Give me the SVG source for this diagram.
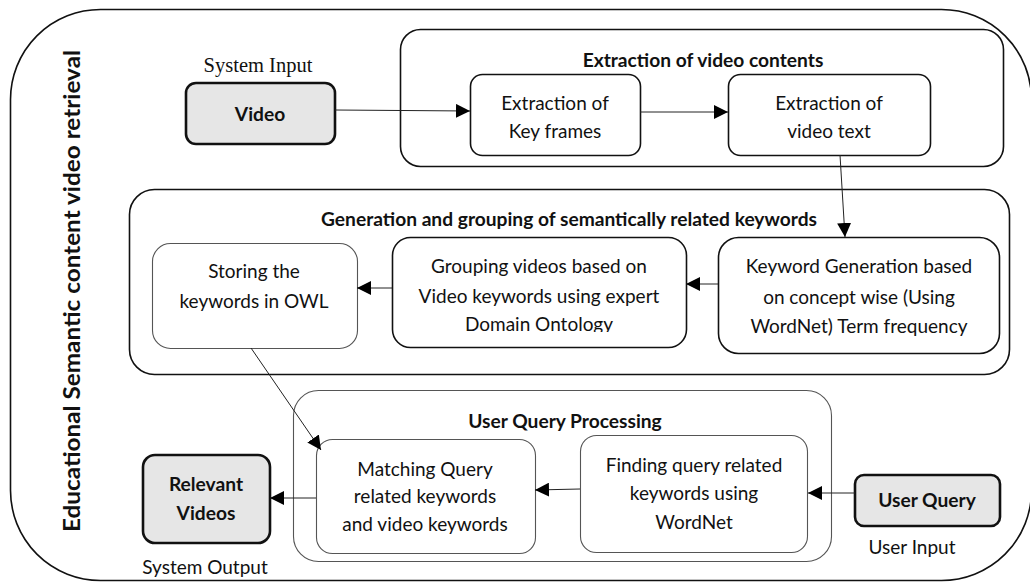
<svg xmlns="http://www.w3.org/2000/svg" width="1030" height="582" viewBox="0 0 1030 582">
<style>
.frame{fill:none;stroke:#111;stroke-width:1.6}
.grp{fill:#fff;stroke:#111;stroke-width:1.6}
.grpl{fill:#fff;stroke:#555;stroke-width:1.1}
.box{fill:#fff;stroke:#111;stroke-width:1.6}
.boxl{fill:#fff;stroke:#555;stroke-width:1.1}
.io{fill:#e6e6e6;stroke:#111;stroke-width:2.6}
.t{font-family:Lato,"Liberation Sans",sans-serif;font-size:19px;fill:#111;text-anchor:middle}
.b{font-family:Lato,"Liberation Sans",sans-serif;font-size:19.2px;font-weight:bold;fill:#111;text-anchor:middle}
.s{font-family:"Liberation Serif",serif;font-size:20.5px;fill:#111;text-anchor:middle}
.c{fill:none;stroke:#222;stroke-width:1}
</style>
<defs>
<marker id="ah" viewBox="0 0 10 10" refX="10" refY="5" markerWidth="14" markerHeight="14" markerUnits="userSpaceOnUse" orient="auto">
<path d="M0,0 L10,5 L0,10 z" fill="#000"/>
</marker>
<clipPath id="clipG"><rect x="393" y="238" width="292" height="94"/></clipPath>
</defs>

<g id="frame">
<rect class="frame" x="10.5" y="9.5" width="1021" height="571" rx="90" ry="90"/>
<text transform="translate(80,291) rotate(-90)" font-family="Lato,'Liberation Sans',sans-serif" font-size="22" font-weight="bold" fill="#111" text-anchor="middle" textLength="482" lengthAdjust="spacingAndGlyphs">Educational Semantic content video retrieval</text>
</g>

<g id="group-extraction">
<rect class="grp" x="400.5" y="29.5" width="603" height="137" rx="20"/>
<text class="b" x="703" y="67">Extraction of video contents</text>
</g>

<g id="group-generation">
<rect class="grp" x="129.5" y="189.5" width="880" height="185" rx="25"/>
<text class="b" x="569" y="226">Generation and grouping of semantically related keywords</text>
</g>

<g id="group-query">
<rect class="grpl" x="293.5" y="390.5" width="538" height="171" rx="25"/>
<text class="b" x="565" y="428">User Query Processing</text>
</g>

<g id="system-input">
<text class="s" x="258" y="72">System Input</text>
<rect class="io" x="186" y="83" width="149" height="61" rx="10"/>
<text class="b" x="260" y="121">Video</text>
</g>

<g id="key-frames">
<rect class="box" x="470.5" y="74.5" width="170" height="81" rx="12"/>
<text class="t" x="555" y="110">Extraction of</text>
<text class="t" x="555" y="138">Key frames</text>
</g>

<g id="video-text">
<rect class="box" x="728.5" y="74.5" width="202" height="81" rx="12"/>
<text class="t" x="829" y="110">Extraction of</text>
<text class="t" x="829" y="138">video text</text>
</g>

<g id="keyword-generation">
<rect class="box" x="718.5" y="237.5" width="281" height="116" rx="20"/>
<text class="t" x="859" y="273">Keyword Generation based</text>
<text class="t" x="859" y="304">on concept wise (Using</text>
<text class="t" x="859" y="333">WordNet) Term frequency</text>
</g>

<g id="grouping">
<rect class="box" x="392.5" y="237.5" width="294" height="110" rx="18"/>
<g clip-path="url(#clipG)">
<text class="t" x="539" y="273">Grouping videos based on</text>
<text class="t" x="539" y="303">Video keywords using expert</text>
<text class="t" x="539" y="331">Domain Ontology</text>
</g>
</g>

<g id="storing">
<rect class="boxl" x="152.5" y="243.5" width="205" height="105" rx="18"/>
<text class="t" x="254" y="278">Storing the</text>
<text class="t" x="254" y="308">keywords in OWL</text>
</g>

<g id="matching">
<rect class="boxl" x="316.5" y="439.5" width="219" height="114" rx="16"/>
<text class="t" x="425" y="476">Matching Query</text>
<text class="t" x="425" y="503">related keywords</text>
<text class="t" x="425" y="531">and video keywords</text>
</g>

<g id="finding">
<rect class="boxl" x="580.5" y="435.5" width="227" height="117" rx="16"/>
<text class="t" x="694" y="472">Finding query related</text>
<text class="t" x="694" y="500">keywords using</text>
<text class="t" x="694" y="529">WordNet</text>
</g>

<g id="user-query">
<rect class="io" x="855" y="475" width="145" height="51" rx="9"/>
<text class="b" x="927" y="507">User Query</text>
<text class="t" x="912" y="554">User Input</text>
</g>

<g id="relevant-videos">
<rect class="io" x="143" y="455" width="127" height="88" rx="12"/>
<text class="b" x="206" y="491">Relevant</text>
<text class="b" x="206" y="520">Videos</text>
<text class="t" x="205" y="574">System Output</text>
</g>

<g id="connectors">
<line class="c" x1="335" y1="110" x2="470" y2="111" marker-end="url(#ah)"/>
<line class="c" x1="640" y1="112" x2="728" y2="112" marker-end="url(#ah)"/>
<line class="c" x1="840" y1="155" x2="845" y2="237" marker-end="url(#ah)"/>
<line class="c" x1="718" y1="284" x2="686" y2="284" marker-end="url(#ah)"/>
<line class="c" x1="392" y1="288" x2="357" y2="288" marker-end="url(#ah)"/>
<line class="c" x1="251" y1="348" x2="321" y2="450" marker-end="url(#ah)"/>
<line class="c" x1="855" y1="493" x2="808" y2="493" marker-end="url(#ah)"/>
<line class="c" x1="580" y1="489" x2="535" y2="490" marker-end="url(#ah)"/>
<line class="c" x1="316" y1="498" x2="270" y2="498" marker-end="url(#ah)"/>
</g>
</svg>
